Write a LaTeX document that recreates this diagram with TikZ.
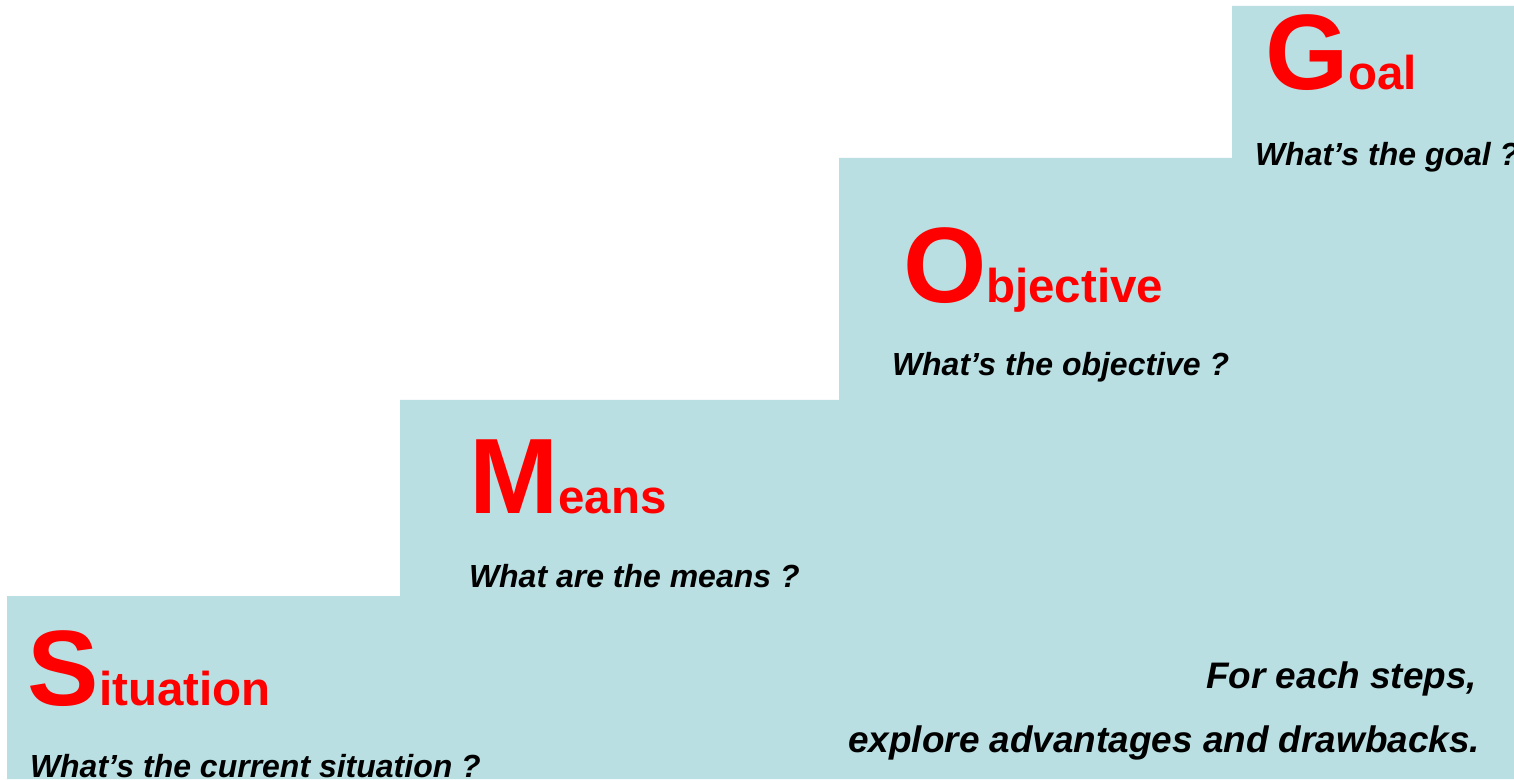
\documentclass[tikz,border=0pt]{standalone}
\usepackage{fontspec}
\setmainfont{Liberation Sans}
\usetikzlibrary{positioning}
\definecolor{stepblue}{RGB}{185,223,226}
\definecolor{stepred}{RGB}{255,0,0}
\tikzstyle{word} = [ inner sep = 0pt, outer sep = 0pt, anchor = base west, text = stepred, font = \bfseries ]
\tikzstyle{question} = [ inner sep = 0pt, outer sep = 0pt, anchor = base west, font = \bfseries\itshape\fontsize{18.2}{22}\selectfont ]
\tikzstyle{advice} = [ question, anchor = base east, font = \bfseries\itshape\fontsize{21}{25}\selectfont ]
\newcommand{\initial}[2]{{\fontsize{61}{61}\selectfont #1}{\fontsize{27}{27}\selectfont #2}}

\begin{document}
\begin{tikzpicture}
	\clip ( 0, 0 ) rectangle ( 30.28, 15.58 );
	\fill[white] ( 0, 0 ) rectangle ( 30.28, 15.58 );

	% the four steps
	\fill[stepblue] ( 0.14, 0 ) -- ( 0.14, 3.66 ) -- ( 8.0, 3.66 ) -- ( 8.0, 7.58 )
		-- ( 16.78, 7.58 ) -- ( 16.78, 12.42 ) -- ( 24.64, 12.42 ) -- ( 24.64, 15.46 )
		-- ( 30.28, 15.46 ) -- ( 30.28, 0 ) -- cycle;

	\node[word] (goal) at ( 25.30, 13.78 ) { \initial{G}{oal} };
	\node[question] (goalq) at ( 25.10, 12.26 ) { What’s the goal ? };

	\node[word] (objective) at ( 18.06, 9.52 ) { \initial{O}{bjective} };
	\node[question] (objectiveq) at ( 17.84, 8.06 ) { What’s the objective ? };

	\node[word] (means) at ( 9.38, 5.32 ) { \initial{M}{eans} };
	\node[question] (meansq) at ( 9.38, 3.84 ) { What are the means ? };

	\node[word] (situation) at ( 0.56, 1.48 ) { \initial{S}{ituation} };
	\node[question] (situationq) at ( 0.60, 0.04 ) { What’s the current situation ? };

	\node[advice] (advice1) at ( 29.54, 1.82 ) { For each steps, };
	\node[advice] (advice2) at ( 29.60, 0.54 ) { explore advantages and drawbacks. };
\end{tikzpicture}
\end{document}
